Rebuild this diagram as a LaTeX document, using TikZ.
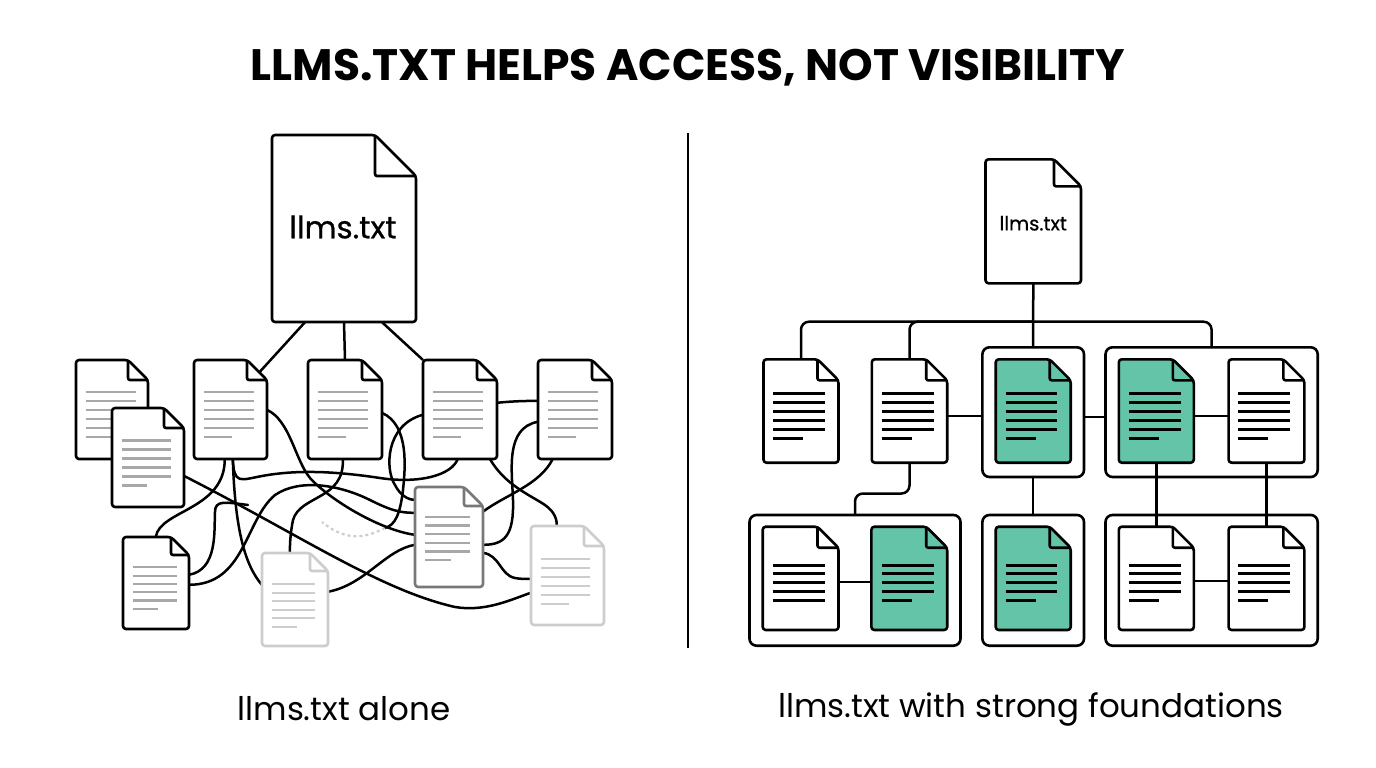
\documentclass[tikz,border=0pt]{standalone}
\usepackage{fontspec}
\setmainfont{Poppins}
\newfontfamily\medfont[FakeBold=0.6]{Poppins}
\usetikzlibrary{calc}
\definecolor{mint}{RGB}{100,196,168}
\definecolor{txtgray}{RGB}{168,168,168}
\definecolor{fadegray}{RGB}{205,205,205}
\definecolor{midgray}{RGB}{120,120,120}
% #1 name, #2 x0, #3 y0, #4 x1, #5 y1, #6 fold, #7 style
\newcommand\mkdoc[7]{%
  \path[#7,rounded corners=3pt] (#2,#3) -- ({#4-#6},#3) -- (#4,{#3+#6}) -- (#4,#5) -- (#2,#5) -- cycle;
  \path[#7,fill=none,rounded corners=2pt] ({#4-#6},#3) -- ({#4-#6},{#3+#6}) -- (#4,{#3+#6});
  \node[inner sep=0pt,outer sep=0pt,minimum width={(#4-#2)*1pt},minimum height={(#5-#3)*1pt}] (#1) at ({(#2+#4)/2},{(#3+#5)/2}) {};
}
% #1 x0, #2 y0, #3 xs, #4 xe, #5 yoff, #6 count, #7 short, #8 spacing, #9 style
\newcommand\doclines[9]{%
  \foreach \i in {1,...,#6}{%
    \pgfmathsetmacro\yy{#2+#5+(\i-1)*#8}%
    \ifnum\i=#6\relax
      \draw[#9] ({#1+#3},\yy) -- ({#1+#3+#7},\yy);
    \else
      \draw[#9] ({#1+#3},\yy) -- ({#1+#4},\yy);
    \fi
  }%
}
\tikzset{
  ldoc/.style={draw=black,fill=white,line width=2.6pt,line join=round},
  fdoc/.style={draw=fadegray,fill=white,line width=2.6pt,line join=round},
  mdoc/.style={draw=midgray,fill=white,line width=2.6pt,line join=round},
  wdoc/.style={draw=black,fill=white,line width=2.6pt,line join=round},
  gdoc/.style={draw=black,fill=mint,line width=2.6pt,line join=round},
  ltext/.style={draw=txtgray,line width=2.2pt},
  ftext/.style={draw=fadegray,line width=2.2pt},
  rtext/.style={draw=black,line width=3pt},
  wire/.style={draw=black,line width=2.5pt,line cap=round},
  fwire/.style={draw=fadegray,line width=2.2pt,dashed},
  grp/.style={draw=black,fill=white,line width=2.6pt,rounded corners=7pt},
}
\begin{document}
\begin{tikzpicture}[x=1pt,y=-1pt]
\useasboundingbox (0,0) rectangle (1376,768);
\fill[white] (0,0) rectangle (1376,768);

% title
\node[font=\fontsize{44}{52}\selectfont\bfseries] (title) at (688,68) {LLMS.TXT HELPS ACCESS, NOT VISIBILITY};

% divider
\coordinate (divtop) at (688,133);
\coordinate (divbot) at (688,648);
\draw[line width=2.2pt] (divtop) -- (divbot);

% ================= LEFT =================
\node[inner sep=0pt,minimum width=72pt,minimum height=99pt] (docB) at (148,457.5) {};
\node[inner sep=0pt,minimum width=73pt,minimum height=99pt] (doc2) at (230.5,409.5) {};
\node[inner sep=0pt,minimum width=74pt,minimum height=99pt] (doc3) at (345,409.5) {};
\node[inner sep=0pt,minimum width=74pt,minimum height=99pt] (doc4) at (460,409.5) {};
\node[inner sep=0pt,minimum width=74pt,minimum height=99pt] (doc5) at (575,409.5) {};
\node[inner sep=0pt,minimum width=66pt,minimum height=92pt] (docC) at (156,583) {};
\node[inner sep=0pt,minimum width=66pt,minimum height=93pt] (docD) at (295,599.5) {};
\node[inner sep=0pt,minimum width=68pt,minimum height=100pt] (docE) at (449,537) {};
\node[inner sep=0pt,minimum width=73pt,minimum height=99pt] (docF) at (567.5,575.5) {};
\node[inner sep=0pt,minimum width=144pt,minimum height=187pt] (big) at (344,228.5) {};

% tangled wires
\draw[wire] ($(docB.north west)+(72,68)$) .. controls (300,535) and (380,590) .. (455,607) .. controls (485,612) and (510,600) .. ($(docF.north west)+(0,67)$);
\draw[wire] ($(doc2.north west)+(31,99)$) .. controls (225,510) and (160,510) .. ($(docC.north west)+(33,0)$);
\draw[wire] ($(doc2.north west)+(39,99)$) .. controls (235,530) and (245,565) .. ($(docD.north west)+(0,32)$);
\draw[wire] ($(doc2.north west)+(39,99)$) .. controls (234,485) and (240,480) .. (262,476) .. controls (300,469) and (340,472) .. (380,478) .. controls (420,484) and (452,475) .. ($(doc4.north west)+(35,99)$);
\coordinate (j1) at (248,505);
\draw[wire] ($(docC.north west)+(66,38)$) .. controls (218,570) and (214,530) .. (215,512) .. controls (215,500) and (225,502) .. (j1);
\draw[wire] ($(docC.north west)+(66,48)$) .. controls (245,585) and (245,520) .. (275,495) .. controls (300,478) and (340,485) .. (370,500) .. controls (390,510) and (400,513) .. ($(docE.north west)+(0,26)$);
\draw[wire] ($(doc3.north west)+(35,99)$) .. controls (345,500) and (300,495) .. (293,520) .. controls (290,535) and (290,545) .. ($(docD.north west)+(28,0)$);
\coordinate (j2) at (385,528);
\coordinate (j3) at (322,522);
\draw[wire] ($(doc3.north west)+(74,53)$) .. controls (410,425) and (405,470) .. (403,490) .. controls (400,515) and (395,525) .. (j2);
\draw[fwire] (j2) .. controls (370,535) and (350,545) .. (j3);
\draw[wire] ($(doc4.north west)+(0,55)$) .. controls (385,425) and (385,470) .. (395,485) .. controls (400,495) and (408,500) .. ($(docE.north west)+(0,13)$);
\draw[wire] ($(doc4.north west)+(67,99)$) .. controls (505,485) and (530,495) .. (545,505) .. controls (555,512) and (557,520) .. ($(docF.north west)+(26,0)$);
\draw[wire] ($(doc5.north west)+(15,99)$) .. controls (540,485) and (505,495) .. ($(docE.north west)+(68,25)$);
\draw[wire] ($(doc5.north west)+(0,62)$) .. controls (505,428) and (512,470) .. (513,500) .. controls (514,535) and (505,545) .. ($(docE.north west)+(68,58)$);
\draw[wire] ($(doc4.north west)+(74,43)$) .. controls (515,401) and (525,401) .. ($(doc5.north west)+(0,41)$);
\draw[wire] ($(docE.north west)+(68,66)$) .. controls (500,555) and (500,575) .. (515,578) .. controls (520,579) and (525,579) .. ($(docF.north west)+(0,53)$);
\draw[wire] ($(docD.north west)+(66,39)$) .. controls (365,585) and (385,550) .. ($(docE.north west)+(0,58)$);
\draw[wire] ($(doc2.north west)+(73,50)$) .. controls (290,420) and (295,460) .. (310,478) .. controls (330,500) and (380,530) .. ($(docE.north west)+(0,48)$);

% links from big llms.txt
\draw[wire] ([xshift=-39pt]big.south) -- ($(doc2.north west)+(66,12)$);
\draw[wire] (big.south) -- (doc3.north);
\draw[wire] ([xshift=38pt]big.south) -- (doc4.north west);

% documents (left)
\mkdoc{bigdoc}{272}{135}{416}{322}{41}{ldoc}
\node[font=\medfont\fontsize{31}{35}\selectfont] (bigtxt) at (343,227) {llms.txt};

\mkdoc{docAd}{76}{360}{148}{459}{20}{ldoc}
\doclines{76}{360}{9.5}{60}{32}{6}{25}{9}{ltext}
\mkdoc{docBd}{112}{408}{184}{507}{20}{ldoc}
\doclines{112}{408}{9.5}{59}{32.5}{6}{25}{9}{ltext}
\mkdoc{doc2d}{194}{360}{267}{459}{20}{ldoc}
\doclines{194}{360}{10}{60}{32}{6}{28}{9}{ltext}
\mkdoc{doc3d}{308}{360}{382}{459}{20}{ldoc}
\doclines{308}{360}{10}{60}{32}{6}{28}{9}{ltext}
\mkdoc{doc4d}{423}{360}{497}{459}{20}{ldoc}
\doclines{423}{360}{10}{60}{32}{6}{28}{9}{ltext}
\mkdoc{doc5d}{538}{360}{612}{459}{20}{ldoc}
\doclines{538}{360}{10}{60}{32}{6}{28}{9}{ltext}
\mkdoc{docCd}{123}{537}{189}{629}{18}{ldoc}
\doclines{123}{537}{9.7}{54.3}{30.3}{6}{25.6}{8.3}{ltext}
\mkdoc{docDd}{262}{553}{328}{646}{18}{fdoc}
\doclines{262}{553}{9.7}{53}{31.3}{6}{25}{8.5}{ftext}
\mkdoc{docEd}{415}{487}{483}{587}{19}{mdoc}
\doclines{415}{487}{10}{55}{29.7}{6}{26}{8.7}{ltext}
\mkdoc{docFd}{531}{526}{604}{625}{20}{fdoc}
\doclines{531}{526}{10}{59}{33}{6}{28}{9}{ftext}

% label
\node[font=\fontsize{32.5}{36}\selectfont] (lab1) at (344,709) {llms.txt alone};

% ================= RIGHT =================
\draw[grp] (982.4,347.3) rectangle (1084,477);
\node[inner sep=0pt,minimum width=101.6pt,minimum height=129.7pt] (G1box) at (1033.2,412.15) {};
\draw[grp] (1105.5,347.3) rectangle (1317.7,477);
\node[inner sep=0pt,minimum width=212.2pt,minimum height=129.7pt] (G2box) at (1211.6,412.15) {};
\draw[grp] (749.5,515) rectangle (960.5,645.7);
\node[inner sep=0pt,minimum width=211pt,minimum height=130.7pt] (B1box) at (855,580.35) {};
\draw[grp] (982.4,515) rectangle (1084,645.7);
\node[inner sep=0pt,minimum width=101.6pt,minimum height=130.7pt] (B2box) at (1033.2,580.35) {};
\draw[grp] (1105.5,515) rectangle (1317.7,645.7);
\node[inner sep=0pt,minimum width=212.2pt,minimum height=130.7pt] (B3box) at (1211.6,580.35) {};

\node[inner sep=0pt,minimum width=95.5pt,minimum height=124pt] (topR) at (1033.25,221.3) {};
\node[inner sep=0pt,minimum width=75pt,minimum height=103.4pt] (R1) at (801,411) {};
\node[inner sep=0pt,minimum width=75.4pt,minimum height=103.4pt] (R2) at (909.5,411) {};
\node[inner sep=0pt,minimum width=75pt,minimum height=103.4pt] (G1) at (1033.2,411) {};
\node[inner sep=0pt,minimum width=75pt,minimum height=103.4pt] (G2) at (1156.3,411) {};
\node[inner sep=0pt,minimum width=75.8pt,minimum height=103.4pt] (R3) at (1266.5,411) {};
\node[inner sep=0pt,minimum width=75.8pt,minimum height=103.3pt] (R6) at (800.6,578.35) {};
\node[inner sep=0pt,minimum width=75.8pt,minimum height=103.3pt] (B1g) at (909.3,578.35) {};
\node[inner sep=0pt,minimum width=75pt,minimum height=103.3pt] (B2g) at (1033.2,578.35) {};
\node[inner sep=0pt,minimum width=75pt,minimum height=103.3pt] (R4) at (1156.3,578.35) {};
\node[inner sep=0pt,minimum width=75.8pt,minimum height=103.3pt] (R5) at (1266.5,578.35) {};

% connectors
\coordinate (bus) at (1033.25,321.7);
\draw[wire,rounded corners=8pt] (R1.north) |- (bus) -| (G2box.north);
\draw[wire,rounded corners=8pt] (R2.north) |- (bus);
\draw[wire] (topR.south) -- (G1box.north);
\draw[wire] ([yshift=-5pt]R2.east) -- ([yshift=-5pt]R2.east -| G1box.west);
\draw[wire] ([yshift=-5pt]G1box.east) -- ([yshift=-5pt]G1box.east -| G2box.west);
\draw[wire] ([yshift=-5pt]G2.east) -- ([yshift=-5pt]G2.east -| R3.west);
\draw[wire,rounded corners=8pt] (R2.south) -- ++(0,30.6) -| (B1box.north);
\draw[wire] (G1box.south) -- (B2box.north);
\draw[wire] (G2.south) -- (R4.north);
\draw[wire] (R3.south) -- (R5.north);
\draw[wire] ([yshift=-3.4pt]R6.east) -- ([yshift=-3.4pt]R6.east -| B1g.west);
\draw[wire] ([yshift=-2.4pt]R4.east) -- ([yshift=-2.4pt]R4.east -| R5.west);

% right documents
\mkdoc{topRd}{985.5}{159.3}{1081}{283.3}{27}{wdoc}
\node[font=\medfont\fontsize{19.5}{23}\selectfont] (toptxt) at (1033.25,223.3) {llms.txt};

\mkdoc{R1d}{763.5}{359.3}{838.5}{462.7}{21}{wdoc}
\doclines{763.5}{359.3}{9.8}{61.7}{34}{6}{30}{8.95}{rtext}
\mkdoc{R2d}{871.8}{359.3}{947.2}{462.7}{21}{wdoc}
\doclines{871.8}{359.3}{9.8}{61.7}{34}{6}{30}{8.95}{rtext}
\mkdoc{G1d}{995.7}{359.3}{1070.7}{462.7}{21}{gdoc}
\doclines{995.7}{359.3}{9.8}{61.7}{34}{6}{30}{8.95}{rtext}
\mkdoc{G2d}{1118.8}{359.3}{1193.8}{462.7}{21}{gdoc}
\doclines{1118.8}{359.3}{9.8}{61.7}{34}{6}{30}{8.95}{rtext}
\mkdoc{R3d}{1228.6}{359.3}{1304.4}{462.7}{21}{wdoc}
\doclines{1228.6}{359.3}{9.8}{61.7}{34}{6}{30}{8.95}{rtext}

\mkdoc{R6d}{762.7}{526.7}{838.5}{630}{21}{wdoc}
\doclines{762.7}{526.7}{10}{62}{38.3}{5}{52}{8.95}{rtext}
\mkdoc{B1gd}{871.4}{526.7}{947.2}{630}{21}{gdoc}
\doclines{871.4}{526.7}{10.6}{62.6}{38.3}{5}{30}{8.95}{rtext}
\mkdoc{B2gd}{995.7}{526.7}{1070.7}{630}{21}{gdoc}
\doclines{995.7}{526.7}{9.8}{61.7}{38.3}{5}{30}{8.95}{rtext}
\mkdoc{R4d}{1118.8}{526.7}{1193.8}{630}{21}{wdoc}
\doclines{1118.8}{526.7}{9.8}{61.7}{38.3}{5}{30}{8.95}{rtext}
\mkdoc{R5d}{1228.6}{526.7}{1304.4}{630}{21}{wdoc}
\doclines{1228.6}{526.7}{9.8}{61.7}{38.3}{5}{30}{8.95}{rtext}

\node[font=\fontsize{32.5}{36}\selectfont] (lab2) at (1031,709) {llms.txt with strong foundations};
\end{tikzpicture}
\end{document}
